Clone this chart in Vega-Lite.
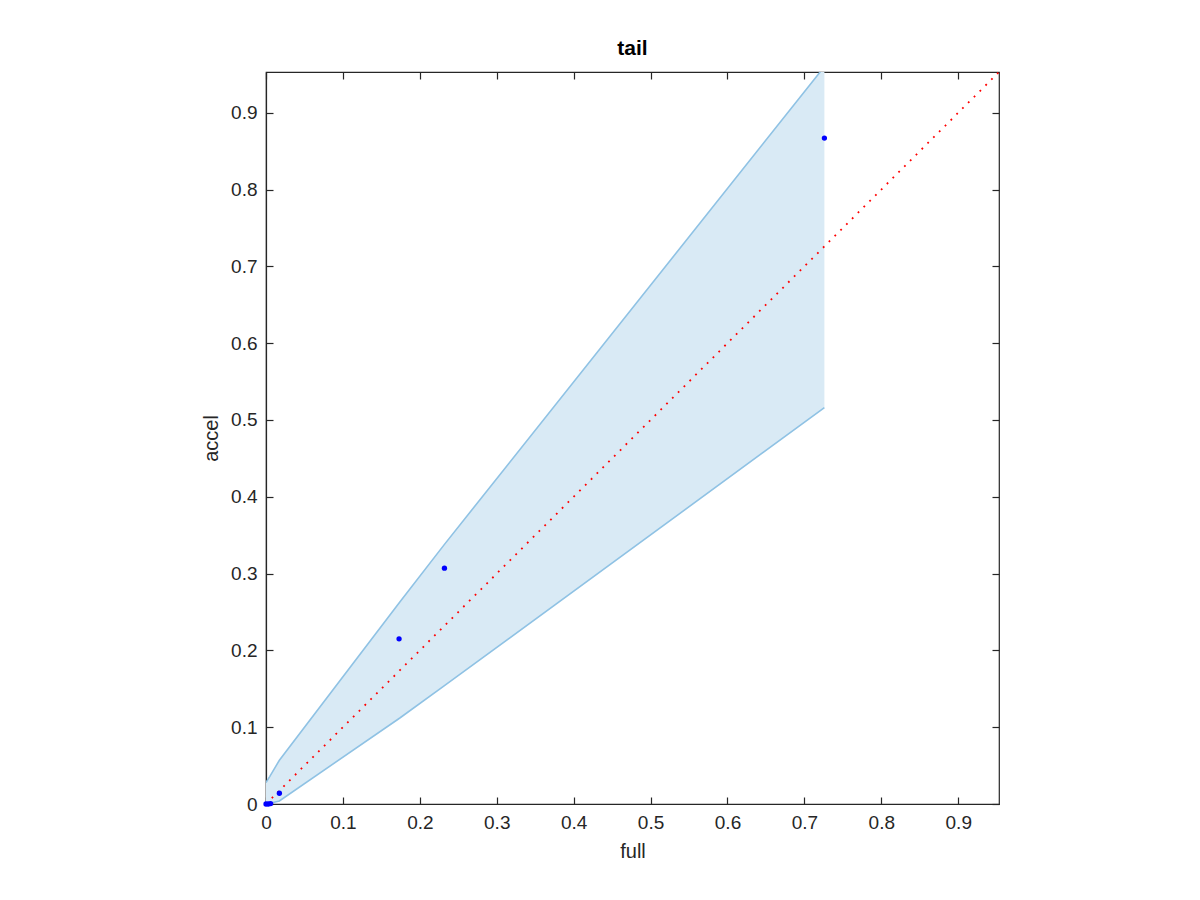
{
  "$schema": "https://vega.github.io/schema/vega-lite/v6.json",
  "autosize": {"type": "none"},
  "width": 733,
  "height": 732,
  "padding": {"left": 266, "top": 72, "right": 201, "bottom": 96},
  "background": "white",
  "title": {"text": "tail", "fontSize": 21, "fontWeight": "bold", "font": "Liberation Sans", "color": "#000000", "offset": 12},
  "config": {
    "view": {"stroke": "#262626", "strokeWidth": 1.2},
    "axis": {
      "labelFont": "Liberation Sans", "labelFontSize": 19, "labelColor": "#262626", "labelFlush": false,
      "titleFont": "Liberation Sans", "titleFontSize": 20, "titleFontWeight": "normal", "titleColor": "#262626",
      "domainColor": "#262626", "domainWidth": 1.2, "tickColor": "#262626", "tickWidth": 1.2,
      "tickSize": -7, "grid": false
    }
  },
  "datasets": {
    "band": [
      {"x": 0, "lo": 0, "hi": 0.028},
      {"x": 0.005, "lo": 0.001, "hi": 0.036},
      {"x": 0.0174, "lo": 0.004, "hi": 0.057},
      {"x": 0.174, "lo": 0.112, "hi": 0.263},
      {"x": 0.232, "lo": 0.154, "hi": 0.338},
      {"x": 0.726, "lo": 0.516, "hi": 0.96}
    ],
    "pts": [
      {"full": 0, "accel": 0},
      {"full": 0.003, "accel": 0},
      {"full": 0.006, "accel": 0.0005},
      {"full": 0.0174, "accel": 0.014},
      {"full": 0.173, "accel": 0.215},
      {"full": 0.232, "accel": 0.307},
      {"full": 0.726, "accel": 0.867}
    ],
    "diag": [
      {"full": 0, "accel": 0},
      {"full": 0.953, "accel": 0.953}
    ]
  },
  "layer": [
    {
      "data": {"name": "band"},
      "mark": {"type": "area", "color": "#d9eaf5", "clip": true},
      "encoding": {
        "x": {"field": "x", "type": "quantitative", "scale": {"domain": [0, 0.953], "nice": false, "zero": false}, "axis": {"title": "full", "orient": "bottom", "values": [0, 0.1, 0.2, 0.3, 0.4, 0.5, 0.6, 0.7, 0.8, 0.9], "format": "~g", "labelPadding": 16, "titlePadding": 9}},
        "y": {"field": "hi", "type": "quantitative", "scale": {"domain": [0, 0.953], "nice": false, "zero": false}, "axis": {"title": "accel", "orient": "left", "values": [0, 0.1, 0.2, 0.3, 0.4, 0.5, 0.6, 0.7, 0.8, 0.9], "format": "~g", "labelPadding": 16, "titlePadding": 9}},
        "y2": {"field": "lo"}
      }
    },
    {
      "data": {"name": "band"},
      "mark": {"type": "line", "color": "#8fc2e4", "strokeWidth": 1.6, "clip": true},
      "encoding": {
        "x": {"field": "x", "type": "quantitative", "axis": null},
        "y": {"field": "hi", "type": "quantitative", "axis": null}
      }
    },
    {
      "data": {"name": "band"},
      "mark": {"type": "line", "color": "#8fc2e4", "strokeWidth": 1.6, "clip": true},
      "encoding": {
        "x": {"field": "x", "type": "quantitative", "axis": null},
        "y": {"field": "lo", "type": "quantitative", "axis": null}
      }
    },
    {
      "data": {"name": "diag"},
      "mark": {"type": "line", "color": "#ff0000", "strokeWidth": 1.8, "strokeDash": [1.8, 6.4], "clip": true},
      "encoding": {
        "x": {"field": "full", "type": "quantitative", "axis": null},
        "y": {"field": "accel", "type": "quantitative", "axis": null}
      }
    },
    {
      "data": {"name": "pts"},
      "mark": {"type": "point", "filled": true, "color": "#0000ff", "size": 28, "opacity": 1},
      "encoding": {
        "x": {"field": "full", "type": "quantitative", "axis": {"orient": "top", "values": [0, 0.1, 0.2, 0.3, 0.4, 0.5, 0.6, 0.7, 0.8, 0.9], "labels": false, "title": null, "domain": false}},
        "y": {"field": "accel", "type": "quantitative", "axis": {"orient": "right", "values": [0, 0.1, 0.2, 0.3, 0.4, 0.5, 0.6, 0.7, 0.8, 0.9], "labels": false, "title": null, "domain": false}}
      }
    }
  ],
  "resolve": {"axis": {"x": "independent", "y": "independent"}}
}
